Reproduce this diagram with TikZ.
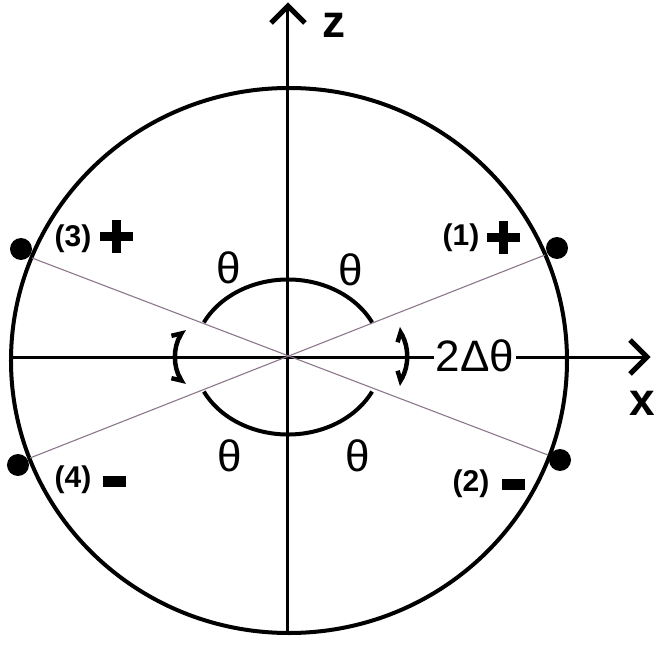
\documentclass[tikz,border=0pt]{standalone}
\usepackage{fontspec}
\setmainfont{Liberation Sans}
\usetikzlibrary{arrows.meta}
\begin{document}
\begin{tikzpicture}[x=1pt,y=1pt,
  axisline/.style={line width=3pt},
  thinline/.style={line width=1.1pt, draw={rgb,255:red,140;green,120;blue,140}},
  arcline/.style={line width=4pt},
  chev/.style={line width=5pt, line cap=butt, line join=miter},
  theta/.style={font=\fontsize{44}{48}\selectfont, inner sep=0pt},
  numlab/.style={font=\bfseries\fontsize{30}{33}\selectfont, inner sep=0pt},
  axlab/.style={font=\bfseries\fontsize{46}{50}\selectfont, inner sep=0pt},
  dot/.style={circle, fill=black, minimum size=22pt, inner sep=0pt},
  brack/.style={line width=4.5pt, {Straight Barb[left,length=7pt,width=15pt]}-{Straight Barb[right,length=7pt,width=15pt]}}
]
\useasboundingbox (-288,-307) rectangle (376,357);
\fill[white] (-288,-307) rectangle (376,357);
% outer circle
\coordinate (C) at (1,-3.5);
\draw[line width=4pt] (C) ellipse [x radius=278, y radius=272.5];
% axes
\coordinate (O) at (0,0);
\coordinate (zb) at (0,-276);
\coordinate (zt) at (0,350);
\coordinate (xl) at (-277,0);
\coordinate (xr) at (358,0);
\draw[axisline] (zb) -- (zt);
\draw[axisline] (xl) -- (xr);
\draw[chev] (-17,334) -- (0,351) -- (17,334);
\draw[chev] (342,-17) -- (359,0) -- (342,17);
% diagonal lines
\coordinate (e1) at (257,102);
\coordinate (e2) at (260,-98);
\coordinate (e3) at (-256,99);
\coordinate (e4) at (-258,-101);
\draw[thinline] (e1) -- (e4);
\draw[thinline] (e3) -- (e2);
% inner arcs
\draw[arcline] (26.5:94 and 77.5) arc[start angle=26.5, end angle=153.5, x radius=94, y radius=77.5];
\draw[arcline] (206.5:94 and 77.5) arc[start angle=206.5, end angle=333.5, x radius=94, y radius=77.5];
% small curved double arrows
\coordinate (lbt) at (-104,28);
\coordinate (lbb) at (-104,-28);
\coordinate (rbt) at (110,29);
\coordinate (rbb) at (110,-28);
\draw[brack] (lbt) to[bend right=30] (lbb);
\draw[brack] (rbt) to[bend left=30] (rbb);
% dots
\node[dot] (d1) at (269,109) {};
\node[dot] (d2) at (272,-103) {};
\node[dot] (d3) at (-267,108) {};
\node[dot] (d4) at (-270,-108) {};
% number labels
\node[numlab] (n1) at (173,119) {(1)};
\node[numlab] (n2) at (183,-127) {(2)};
\node[numlab] (n3) at (-215,118) {(3)};
\node[numlab] (n4) at (-215,-123) {(4)};
% plus and minus signs
\coordinate (p1) at (215,119);
\coordinate (p3) at (-171,120);
\fill (p1) ++(-16.5,-4.5) rectangle ++(33,9);
\fill (p1) ++(-4.5,-16.5) rectangle ++(9,33);
\fill (p3) ++(-16.5,-4.5) rectangle ++(33,9);
\fill (p3) ++(-4.5,-16.5) rectangle ++(9,33);
\coordinate (m2) at (225,-127);
\coordinate (m4) at (-173,-124);
\fill (m2) ++(-11.5,-5.5) rectangle ++(23,11);
\fill (m4) ++(-11.5,-5.5) rectangle ++(23,11);
% theta labels
\node[theta] (t1) at (-59,89) {θ};
\node[theta] (t2) at (63,87) {θ};
\node[theta] (t3) at (-58,-99) {θ};
\node[theta] (t4) at (70,-99) {θ};
\node[theta, fill=white, inner sep=2pt] (dt) at (187,1) {2Δθ};
% axis labels
\node[axlab] (zl) at (46,332) {z};
\node[axlab] (xlab) at (354,-46) {x};
\end{tikzpicture}
\end{document}
